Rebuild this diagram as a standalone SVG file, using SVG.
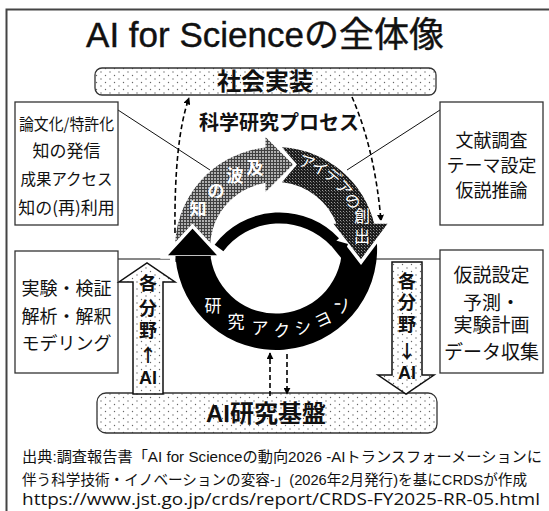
<svg xmlns="http://www.w3.org/2000/svg" width="549" height="511" viewBox="0 0 549 511">
<defs>
  <style>
    .jp{font-family:"Noto Sans CJK JP","Liberation Sans",sans-serif}
    .lat{font-family:"Liberation Sans","Noto Sans CJK JP",sans-serif}
    .box{fill:#fff;stroke:#333;stroke-width:1.3}
    .pill{fill:url(#stip);stroke:#333;stroke-width:1.3}
    .ln{stroke:#111;stroke-width:1;fill:none}
    .dash{stroke:#000;stroke-width:1.6;fill:none;stroke-dasharray:5 3;marker-end:url(#ah)}
    .bt{font-size:18px;fill:#111;text-anchor:middle}
    .wt{fill:#fff;text-anchor:middle}
    .at{font-size:18px;font-weight:bold;fill:#111;text-anchor:middle}
  </style>
  <pattern id="stip" width="9" height="7" patternUnits="userSpaceOnUse">
    <rect width="9" height="7" fill="#fff"/>
    <circle cx="2" cy="2" r="0.7" fill="#666"/>
    <circle cx="6.5" cy="5.5" r="0.7" fill="#666"/>
  </pattern>
  <pattern id="chkL" width="3" height="3" patternUnits="userSpaceOnUse">
    <rect width="3" height="3" fill="#b0b0b0"/>
    <rect width="3" height="1" fill="#404040"/>
    <rect width="1" height="3" fill="#404040"/>
  </pattern>
  <pattern id="chkD" width="3" height="3" patternUnits="userSpaceOnUse">
    <rect width="3" height="3" fill="#1c1c1c"/>
    <rect x="1" y="1" width="1" height="1" fill="#9a9a9a"/>
    <rect x="2" y="2" width="1" height="1" fill="#5a5a5a"/>
  </pattern>
  <marker id="ah" viewBox="0 0 10 10" refX="9" refY="5" markerWidth="7" markerHeight="7" markerUnits="userSpaceOnUse" orient="auto">
    <path d="M0,0 L10,5 L0,10 Z" fill="#000"/>
  </marker>
</defs>

<rect width="549" height="511" fill="#fff"/>
<path d="M6.5,511 V9.5 H549" fill="none" stroke="#444" stroke-width="2"/>

<g id="title">
  <text class="lat" x="265" y="47" font-size="35" fill="#111" text-anchor="middle" stroke="#111" stroke-width="0.4">AI for Scienceの全体像</text>
</g>

<g id="node-social">
  <rect class="pill" x="95" y="68" width="341" height="27" rx="7"/>
  <text class="jp" x="265" y="90" font-size="24" font-weight="bold" fill="#111" text-anchor="middle">社会実装</text>
</g>

<g id="node-ai-base">
  <rect class="pill" x="97" y="393" width="340" height="40" rx="9"/>
  <text class="lat" x="266" y="422" font-size="24" font-weight="bold" fill="#111" text-anchor="middle">AI研究基盤</text>
</g>

<g id="label-process">
  <text class="jp" x="279" y="129.5" font-size="20" font-weight="bold" fill="#111" text-anchor="middle">科学研究プロセス</text>
</g>

<g id="connectors">
  <line class="ln" x1="118" y1="110" x2="210" y2="170"/>
  <line class="ln" x1="440" y1="110" x2="347" y2="170"/>
  <line class="ln" x1="118" y1="259" x2="170" y2="259"/>
  <line class="ln" x1="376" y1="259" x2="440" y2="259"/>
  <path class="dash" d="M175,233 Q174,140 189,98"/>
  <path class="dash" d="M352,97 Q375,150 381,221"/>
  <path class="dash" d="M270,396 V353"/>
  <path class="dash" d="M287,354 V394"/>
</g>

<g id="cycle">
  <path id="band-knowledge" d="M175.1,252 A101,101 0 0,1 266,147.5 L266,182.8 A66,66 0 0,0 210.1,252 Z" fill="url(#chkL)"/>
  <polygon points="265.5,137 293,164.5 265.5,192" fill="url(#chkL)"/>
  <path id="band-action" d="M376.9,242.7 A101,101 0 0,1 175.5,258 L210.8,258 A66,66 0 0,0 341.9,244.5 Z" fill="#000"/>
  <polygon points="330,222 391,222 361,262" fill="url(#chkD)" stroke="#fff" stroke-width="3.5" stroke-linejoin="miter"/>
  <path id="band-idea" d="M282,147.2 A101,101 0 0,1 374.6,225 L337,225 A66,66 0 0,0 282,182.3 L297,164.5 Z" fill="url(#chkD)"/>
  <polygon points="164,257 221,257 192.5,226" fill="#000" stroke="#fff" stroke-width="3.5"/>
  <path d="M175.5,256 L210.8,256 L210.8,262 L175.5,262 Z" fill="#000"/>
  <path d="M219,248 A76,76 0 0,1 335,242" fill="none" stroke="#000" stroke-width="11"/>
  <polygon points="324,237 348,244 342,259" fill="#000"/>

  <g class="jp" font-size="17" font-weight="bold">
    <text class="wt" x="198" y="214.5">知</text>
    <text class="wt" x="216" y="196.5">の</text>
    <text class="wt" x="235" y="181.5">波</text>
    <text class="wt" x="255" y="173.5">及</text>
  </g>
  <g class="jp" font-size="16">
    <text class="wt" transform="translate(307,162) rotate(18)" y="6">ア</text>
    <text class="wt" transform="translate(320,168) rotate(28)" y="6">イ</text>
    <text class="wt" transform="translate(333,176) rotate(40)" y="6">デ</text>
    <text class="wt" transform="translate(344,188) rotate(50)" y="6">ア</text>
    <text class="wt" transform="translate(353,201) rotate(60)" y="6">の</text>
    <text class="wt" x="362" y="222">創</text>
    <text class="wt" x="362" y="242">出</text>
  </g>
  <g class="jp" font-size="17">
    <text class="wt" x="213" y="311.5">研</text>
    <text class="wt" x="236" y="327.5">究</text>
    <text class="wt" x="260" y="333.5">ア</text>
    <text class="wt" transform="translate(282,330) rotate(-5)" y="6.5">ク</text>
    <text class="wt" transform="translate(303,327) rotate(-15)" y="6.5">シ</text>
    <text class="wt" transform="translate(323,319) rotate(-25)" y="6.5">ヨ</text>
    <text class="wt" transform="translate(342,305) rotate(-40)" y="6.5">ン</text>
  </g>
</g>

<g id="node-left1">
  <rect class="box" x="15" y="102" width="103" height="123"/>
  <text class="jp bt" x="66.5" y="129.5" style="font-size:16px" textLength="95" lengthAdjust="spacingAndGlyphs">論文化/特許化</text>
  <text class="jp bt" x="66.5" y="156.5" style="font-size:17px">知の発信</text>
  <text class="jp bt" x="66.5" y="184.5" style="font-size:16px" textLength="92" lengthAdjust="spacingAndGlyphs">成果アクセス</text>
  <text class="jp bt" x="66.5" y="213.5" style="font-size:17px">知の(再)利用</text>
</g>

<g id="node-right1">
  <rect class="box" x="440" y="102" width="103" height="123"/>
  <text class="jp bt" x="491.5" y="147">文献調査</text>
  <text class="jp bt" x="491.5" y="172">テーマ設定</text>
  <text class="jp bt" x="491.5" y="197">仮説推論</text>
</g>

<g id="node-left2">
  <rect class="box" x="15" y="251" width="103" height="122"/>
  <text class="jp bt" x="66.5" y="295">実験・検証</text>
  <text class="jp bt" x="66.5" y="323">解析・解釈</text>
  <text class="jp bt" x="66.5" y="350">モデリング</text>
</g>

<g id="node-right2">
  <rect class="box" x="440" y="250" width="103" height="123"/>
  <text class="jp bt" x="491.5" y="282" style="font-size:19px">仮説設定</text>
  <text class="jp bt" x="491.5" y="310" style="font-size:19px">予測・</text>
  <text class="jp bt" x="491.5" y="332" style="font-size:19px">実験計画</text>
  <text class="jp bt" x="491.5" y="359" style="font-size:19px">データ収集</text>
</g>

<g id="node-arrow-up">
  <polygon points="133,394 133,282 119,282 147,263 175,282 163,282 163,394" fill="url(#stip)" stroke="#111" stroke-width="1.5"/>
  <text class="jp at" x="148" y="290">各</text>
  <text class="jp at" x="148" y="315">分</text>
  <text class="jp at" x="148" y="337">野</text>
  <text class="jp at" x="148" y="362">↑</text>
  <text class="lat at" x="148" y="384">AI</text>
</g>

<g id="node-arrow-down">
  <polygon points="392,262 422,262 422,375 434,375 406,394 378,375 392,375" fill="url(#stip)" stroke="#111" stroke-width="1.5"/>
  <text class="jp at" x="407" y="288">各</text>
  <text class="jp at" x="407" y="309">分</text>
  <text class="jp at" x="407" y="331">野</text>
  <text class="jp at" x="407" y="358">↓</text>
  <text class="lat at" x="407" y="379">AI</text>
</g>

<g id="footer">
  <text class="lat" x="22" y="462" font-size="15" fill="#111" textLength="520" lengthAdjust="spacingAndGlyphs">出典:調査報告書「AI for Scienceの動向2026 -AIトランスフォーメーションに</text>
  <text class="lat" x="22" y="485" font-size="15" fill="#111" textLength="505" lengthAdjust="spacingAndGlyphs">伴う科学技術・イノベーションの変容-」(2026年2月発行)を基にCRDSが作成</text>
  <text x="22" y="505" font-size="16" fill="#111" font-family="'Open Sans','Noto Sans',sans-serif" textLength="518" lengthAdjust="spacingAndGlyphs">https://www.jst.go.jp/crds/report/CRDS-FY2025-RR-05.html</text>
</g>
</svg>
